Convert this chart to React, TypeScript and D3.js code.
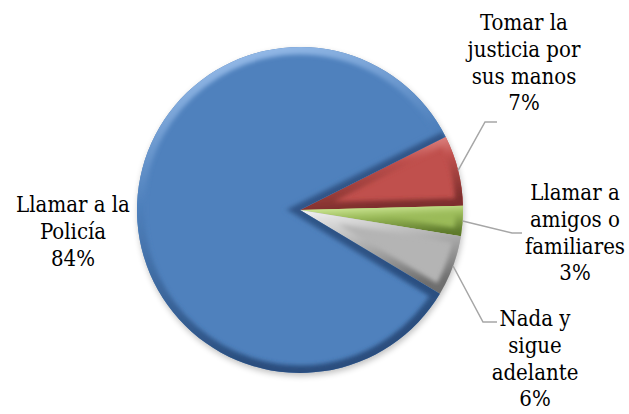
import React from "react";
import * as d3 from "d3";

// Data (drawing order clockwise starting at the red slice)
const categories = ["Tomar la justicia por sus manos", "Llamar a amigos o familiares", "Nada y sigue adelante", "Llamar a la Policía"];
const values = [7, 3, 6, 84];
const labelLines = [
  ["Tomar la", "justicia por", "sus manos"],
  ["Llamar a", "amigos o", "familiares"],
  ["Nada y", "sigue", "adelante"],
  ["Llamar a la", "Policía"],
];
const percentLabels = ["7%", "3%", "6%", "84%"];

// Styles / layout
const W = 629, H = 414;
const cx = 300, cy = 210, R = 163;
const startDeg = 63.3;
const baseColors = ["#C0504D", "#9BBB59", "#B4B4B4", "#4F81BD"];
const lightColors = ["#F4AAA8", "#DDF5A8", "#F2F2F2", "#A6C8F2"];
const darkColors = ["#7E2F2D", "#5E7A2C", "#6E6E6E", "#2A4E7E"];
const labelPos = [
  { x: 524, y: 30 },
  { x: 575, y: 200 },
  { x: 535, y: 326 },
  { x: 73, y: 212 },
];
const leaderElbows: ([number, number][] | null)[] = [
  [[485, 122], [497, 122]],
  [[512, 233], [522, 233]],
  [[483, 322], [497, 322]],
  null,
];
const lineH = 26.8;

export default function App() {
  const pie = d3
    .pie<number>()
    .sort(null)
    .value((d) => d)
    .startAngle((startDeg * Math.PI) / 180)
    .endAngle((startDeg * Math.PI) / 180 + 2 * Math.PI);
  const arcs = pie(values);
  const arc = d3.arc<d3.PieArcDatum<number>>().innerRadius(0).outerRadius(R);
  const rim = d3.arc<d3.PieArcDatum<number>>().innerRadius(R).outerRadius(R);

  return (
    <svg width={W} height={H} style={{ position: "absolute", left: 0, top: 0, background: "#fff" }}>
      <style>{`.lbl { font-family: "DejaVu Serif Condensed", "DejaVu Serif", serif; font-stretch: condensed; font-size: 22px; }`}</style>
      <defs>
        <filter id="blur" x="-20%" y="-20%" width="140%" height="140%">
          <feGaussianBlur stdDeviation="2.2" />
        </filter>
        <filter id="shadow" x="-20%" y="-20%" width="140%" height="140%">
          <feGaussianBlur stdDeviation="3" />
        </filter>
        {arcs.map((a, i) => (
          <linearGradient key={i} id={`g${i}`} x1="0" y1="0" x2="0.25" y2="1">
            <stop offset="0" stopColor={lightColors[i]} />
            <stop offset="0.45" stopColor={baseColors[i]} />
            <stop offset="1" stopColor={darkColors[i]} />
          </linearGradient>
        ))}
        {arcs.map((a, i) => (
          <clipPath key={i} id={`c${i}`}>
            <path d={arc(a) as string} />
          </clipPath>
        ))}
      </defs>
      <g transform={`translate(${cx},${cy})`}>
        <circle cx={1} cy={3} r={R} fill="#000" opacity={0.25} filter="url(#shadow)" />
        {arcs.map((a, i) => {
          const c0 = [Math.sin(a.startAngle) * R, -Math.cos(a.startAngle) * R];
          const c1 = [Math.sin(a.endAngle) * R, -Math.cos(a.endAngle) * R];
          return (
            <g key={i}>
              <path d={arc(a) as string} fill={baseColors[i]} />
              <g clipPath={`url(#c${i})`}>
                <g filter="url(#blur)">
                  <path d={arc(a) as string} fill="none" stroke={`url(#g${i})`} strokeWidth={15} />
                  {i === 3 && (
                    <path
                      d={`M${c0[0]},${c0[1]}L0,0L${c1[0]},${c1[1]}`}
                      fill="none"
                      stroke={darkColors[i]}
                      strokeWidth={12}
                      opacity={0.8}
                    />
                  )}
                </g>
              </g>
            </g>
          );
        })}
      </g>
      {arcs.map((a, i) => {
        const el = leaderElbows[i];
        if (!el) return null;
        const [px, py] = rim.centroid(a);
        const pts = [[cx + px, cy + py], ...el];
        return (
          <polyline
            key={i}
            points={pts.map((p) => p.join(",")).join(" ")}
            fill="none"
            stroke="#A6A6A6"
            strokeWidth={1.5}
          />
        );
      })}
      {arcs.map((a, i) => {
        const lines = [...labelLines[i], percentLabels[i]];
        return (
          <text key={i} className="lbl" x={labelPos[i].x} y={labelPos[i].y} textAnchor="middle" fill="#000">
            {lines.map((l, j) => (
              <tspan key={j} x={labelPos[i].x} y={labelPos[i].y + j * lineH}>
                {l}
              </tspan>
            ))}
          </text>
        );
      })}
    </svg>
  );
}
